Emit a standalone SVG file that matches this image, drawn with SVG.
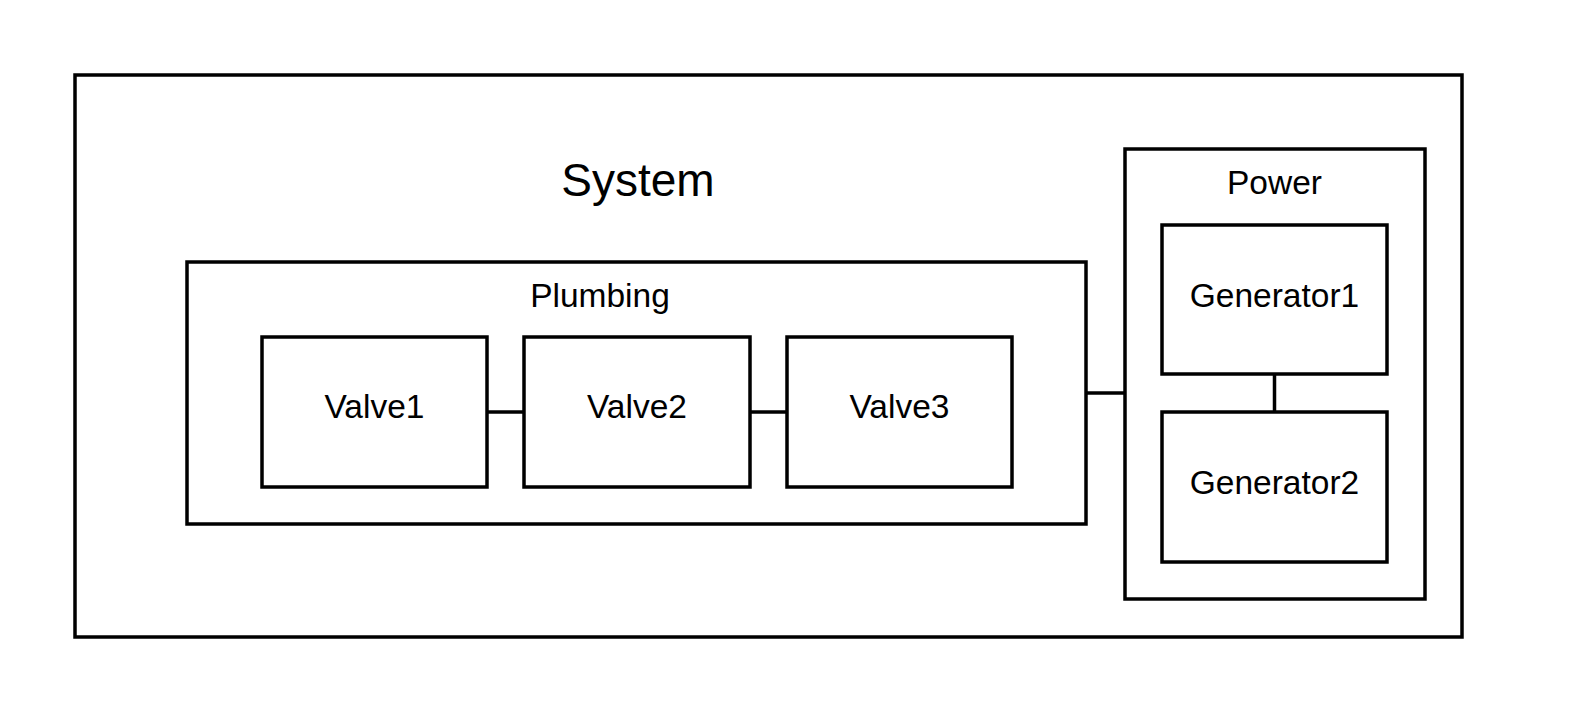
<svg xmlns="http://www.w3.org/2000/svg" width="1575" height="713" viewBox="0 0 1575 713">
<style>
.box{fill:#fff;stroke:#000;stroke-width:3.5}
.ln{stroke:#000;stroke-width:3.5;fill:none}
text{font-family:"Liberation Sans",Arial,sans-serif;fill:#000;text-anchor:middle}
.t32{font-size:33.5px}
.t44{font-size:46px}
</style>
<rect width="1575" height="713" fill="#fff"/>
<g id="system">
<rect class="box" x="75" y="75" width="1387" height="562"/>
<text class="t44" x="638" y="196">System</text>
</g>
<g id="plumbing">
<rect class="box" x="187" y="262" width="899" height="262"/>
<text class="t32" x="600" y="307">Plumbing</text>
</g>
<g id="power">
<rect class="box" x="1125" y="149" width="300" height="450"/>
<text class="t32" x="1274.5" y="194">Power</text>
</g>
<g id="connectors">
<line class="ln" x1="487" y1="412" x2="524" y2="412"/>
<line class="ln" x1="750" y1="412" x2="787" y2="412"/>
<line class="ln" x1="1086" y1="393" x2="1125" y2="393"/>
<line class="ln" x1="1274.5" y1="374" x2="1274.5" y2="412"/>
</g>
<g id="valve1">
<rect class="box" x="262" y="337" width="225" height="150"/>
<text class="t32" x="374.5" y="418">Valve1</text>
</g>
<g id="valve2">
<rect class="box" x="524" y="337" width="226" height="150"/>
<text class="t32" x="637" y="418">Valve2</text>
</g>
<g id="valve3">
<rect class="box" x="787" y="337" width="225" height="150"/>
<text class="t32" x="899.5" y="418">Valve3</text>
</g>
<g id="generator1">
<rect class="box" x="1162" y="225" width="225" height="149"/>
<text class="t32" x="1274.5" y="307">Generator1</text>
</g>
<g id="generator2">
<rect class="box" x="1162" y="412" width="225" height="150"/>
<text class="t32" x="1274.5" y="494">Generator2</text>
</g>
</svg>
